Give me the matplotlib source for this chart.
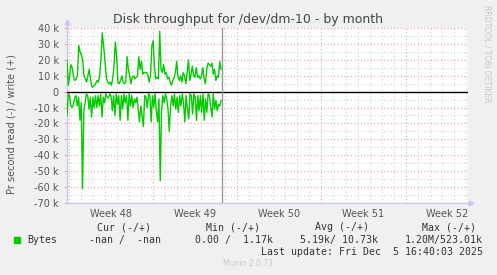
import numpy as np
import matplotlib.pyplot as plt
from matplotlib.patches import Rectangle

W, H = 497, 275  # output size in px

# write (+) in kB/s, read (-) in kB/s
write_k = [19.5, 4, 10, 17, 15, 9, 7, 8, 10, 29, 25, 23, 20, 10, 8, 6, 10, 14, 8, 3,
           3, 4, 5, 7, 6, 10, 20, 37, 29,
           20, 10, 6, 5, 6, 4, 8, 16, 31, 22, 6, 5, 7, 10, 6, 5, 6, 22, 14, 10,
           5, 9, 10, 8, 9, 10, 22, 14, 19, 11, 12,
           12, 12, 10, 6, 11, 29, 32, 15, 8, 9, 8, 38, 14, 12, 17, 11, 12, 8, 9,
           6, 4, 7, 9, 12, 19, 9, 7, 10, 6, 12,
           10, 5, 12, 20, 7, 11, 16, 10, 9, 15, 9, 10, 8, 10, 15, 8, 5, 14, 18,
           17, 16, 18, 11, 14, 7, 10, 9, 19, 14]
read_k = [15, 1.5, 2.5, 9, 10, 8, 3.5, 2.5, 9, 3.5, 18, 7, 61, 12, 7, 1.5, 2.5, 11, 3.5,
          16, 3.5, 10, 2.5, 10, 2.5, 9, 1.5, 16, 3.5, 7,
          1.5, 3.5, 4, 1.5, 2.5, 12, 2.5, 15, 1.5, 8, 2.5, 18, 2.5, 11, 1.5, 7, 2.5,
          18, 1.5, 9, 2.5, 10, 4.5, 7, 3.5, 11, 19, 9, 15, 22, 2.5,
          3.5, 10, 1.5, 2.5, 19, 2.5, 10, 1.5, 12, 19, 4.5, 56, 13, 2.5, 7, 1.5, 4.5,
          11, 25, 9, 2.5, 9, 1.5, 11, 3.5, 13, 2.5, 9, 1.5, 7,
          19, 2.5, 11, 17, 1.5, 2.5, 14, 1.5, 3.5, 18, 2.5, 12, 2.5, 13, 1.5, 18, 4.5,
          13, 1.5, 2.5, 10, 16, 1.5, 11, 5.5, 12, 8, 9, 5.5]

week_labels = ['Week 48', 'Week 49', 'Week 50', 'Week 51', 'Week 52']
col_heads = ['Cur (-/+)', 'Min (-/+)', 'Avg (-/+)', 'Max (-/+)']
col_vals = ['-nan /  -nan', '0.00 /  1.17k', '5.19k/ 10.73k', '1.20M/523.01k']

# time axis in days from the start of week 48
data_start, data_end = -0.19, 12.64
now_day = 12.7
x_min, x_max = -0.19, 33.2
y_min, y_max = -70, 40

green = '#00CC00'
mono = 'DejaVu Sans Mono'

fig = plt.figure(figsize=(W / 100, H / 100), dpi=100, facecolor='#F0F0F0')
ax = fig.add_axes([67 / W, 1 - 203 / H, 401 / W, 175 / H])
ax.set_facecolor('white')
ax.set_xlim(x_min, x_max)
ax.set_ylim(y_min, y_max)

# grid, drawn by hand like rrdtool does
for d in range(0, 34):
    c = '#F0A0A0' if d % 7 == 0 else '#D0D0D0'
    ax.axvline(d, color=c, lw=0.8, ls=(0, (1, 2)), zorder=1)
for v in range(y_min, y_max + 1, 5):
    c = '#F0A0A0' if v % 10 == 0 else '#D0D0D0'
    ax.axhline(v, color=c, lw=0.8, ls=(0, (1, 2)), zorder=1)

t_w = np.linspace(data_start, data_end, len(write_k))
t_r = np.linspace(data_start, data_end, len(read_k))
ax.plot(t_w, write_k, color=green, lw=1, zorder=3)
ax.plot(t_r, -np.array(read_k), color=green, lw=1, zorder=3)

ax.axhline(0, color='black', lw=1, zorder=4)
ax.axvline(now_day, color='#999999', lw=1, zorder=4)

for s in ['top', 'right']:
    ax.spines[s].set_visible(False)
for s in ['left', 'bottom']:
    ax.spines[s].set_color('#C8C8F0')
    ax.spines[s].set_linewidth(1)
# axis arrows
ax.plot([0, 0], [1, 1.03], color='#C8C8F0', lw=1, transform=ax.transAxes, clip_on=False)
ax.plot([0], [1.035], marker='^', ms=3.5, color='#C8C8F0', transform=ax.transAxes, clip_on=False)
ax.plot([1, 1.005], [0, 0], color='#C8C8F0', lw=1, transform=ax.transAxes, clip_on=False)
ax.plot([1.008], [0], marker='>', ms=3.5, color='#C8C8F0', transform=ax.transAxes, clip_on=False)

yt = list(range(y_min, y_max + 1, 10))
ax.set_yticks(yt)
ax.set_yticklabels(['0' if v == 0 else f'{v} k' for v in yt])
ax.set_xticks([3.5 + 7 * i for i in range(len(week_labels))])
ax.set_xticklabels(week_labels)
ax.tick_params(axis='y', length=2, color='#F0A0A0', pad=4, labelsize=7, labelcolor='#555555')
ax.tick_params(axis='x', length=0, pad=4, labelsize=7, labelcolor='#555555')

fig.text(248 / W, 1 - 19 / H, 'Disk throughput for /dev/dm-10 - by month',
         ha='center', va='center', fontsize=9, color='#444444')
fig.text(12 / W, 1 - 124 / H, 'Pr second read (-) / write (+)', rotation=90,
         ha='center', va='center', fontsize=7, color='#555555')
fig.text(487 / W, 1 - 5 / H, 'RRDTOOL / TOBI OETIKER', rotation=270,
         ha='center', va='top', fontsize=5.5, color='#C8C8C8')

heads_x = [124.5, 233, 342, 449.5]
vals_right = [161, 273, 378, 483]
for hx, h in zip(heads_x, col_heads):
    fig.text(hx / W, 1 - 227.5 / H, h, ha='center', va='center',
             family=mono, fontsize=7.15, color='#333333')
for vx, v in zip(vals_right, col_vals):
    fig.text(vx / W, 1 - 240 / H, v, ha='right', va='center',
             family=mono, fontsize=7.15, color='#333333')
fig.patches.append(Rectangle((14 / W, 1 - 243 / H), 6 / W, 6 / H,
                             transform=fig.transFigure, color=green))
fig.text(27 / W, 1 - 240 / H, 'Bytes', ha='left', va='center',
         family=mono, fontsize=7.15, color='#333333')
fig.text(483 / W, 1 - 252 / H, 'Last update: Fri Dec  5 16:40:03 2025',
         ha='right', va='center', family=mono, fontsize=7.15, color='#333333')
fig.text(248 / W, 1 - 264 / H, 'Munin 2.0.73', ha='center', va='center',
         fontsize=5.5, color='#C8C8C8')

fig.savefig('out.png', dpi=100, facecolor=fig.get_facecolor())
